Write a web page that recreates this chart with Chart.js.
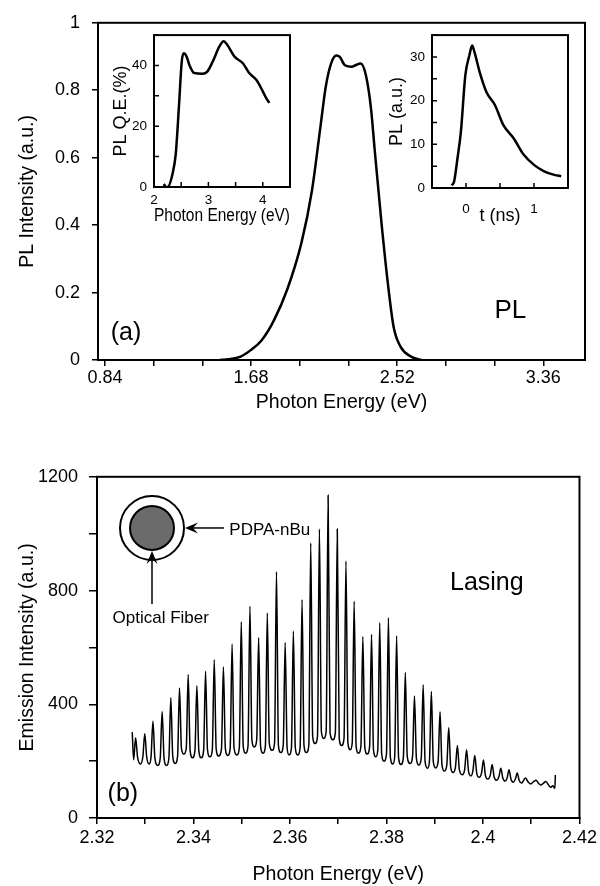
<!DOCTYPE html>
<html>
<head>
<meta charset="utf-8">
<script src="https://cdn.jsdelivr.net/npm/chart.js@4.4.1/dist/chart.umd.min.js"></script>
<style>
  body { margin: 0; background: #fff; width: 600px; height: 886px; position: relative; overflow: hidden; }
  canvas { position: absolute; }
</style>
</head>
<body>
<canvas id="plChart" width="600" height="430" style="left:0;top:0"></canvas>
<canvas id="qeChart" width="200" height="210" style="left:100px;top:20px"></canvas>
<canvas id="decayChart" width="210" height="210" style="left:380px;top:20px"></canvas>
<canvas id="lasingChart" width="600" height="431" style="left:0;top:455px"></canvas>
<script>
// (a) PL spectrum
const plEnergy    = [1.50, 1.55, 1.62, 1.68, 1.74, 1.81, 1.89, 1.97, 2.03, 2.08, 2.11, 2.14, 2.17, 2.19,
                     2.22, 2.26, 2.28, 2.31, 2.34, 2.37, 2.39, 2.43, 2.47, 2.50, 2.54, 2.60, 2.66];
const plIntensity = [0, 0.002, 0.01, 0.03, 0.058, 0.116, 0.212, 0.348, 0.502, 0.696, 0.812, 0.879, 0.903, 0.899,
                     0.874, 0.870, 0.874, 0.879, 0.845, 0.744, 0.628, 0.406, 0.212, 0.097, 0.039, 0.01, 0];
const plTicks      = [0.84, 1.12, 1.40, 1.68, 1.96, 2.24, 2.52, 2.80, 3.08, 3.36];
const plTickLabels = [0.84, 1.68, 2.52, 3.36];

// inset: PL quantum efficiency
const qeEnergy = [2.18, 2.22, 2.25, 2.34, 2.40, 2.46, 2.51, 2.55, 2.60, 2.65, 2.74, 2.89, 2.98, 3.08,
                  3.20, 3.28, 3.35, 3.48, 3.63, 3.75, 3.88, 4.00, 4.06, 4.12];
const qeValue  = [1, 0, 0, 4.3, 10.9, 27, 41.3, 44, 42.9, 40.2, 37.5, 37.3, 38, 41.3,
                  46.2, 48, 46.7, 42.9, 40.8, 37.5, 35.3, 31.5, 29.3, 27.7];

// inset: PL decay
const decayTime = [-0.21, -0.175, -0.125, -0.075, -0.01, 0.05, 0.09, 0.125, 0.2, 0.3, 0.425, 0.55,
                   0.7, 0.85, 1.0, 1.15, 1.3, 1.4];
const decayPL   = [0.6, 1.5, 6.8, 12.9, 25.8, 30.4, 32.6, 31.1, 26.6, 22, 19, 14.4,
                   11.4, 7.6, 5.3, 3.8, 3.0, 2.7];

// (b) lasing spectrum: per mode -> peak, foot, valley floor, foot
const lasingEnergy = [
  2.3273, 2.3276,
  2.3280, 2.3284, 2.3290, 2.3295,   2.3299, 2.3303, 2.3308, 2.3312,
  2.3316, 2.3320, 2.3326, 2.3331,   2.3335, 2.3339, 2.3344, 2.3349,
  2.3353, 2.3357, 2.3362, 2.3367,   2.3371, 2.3375, 2.3380, 2.3385,
  2.3389, 2.3393, 2.3398, 2.3403,   2.3407, 2.3411, 2.3416, 2.3421,
  2.3425, 2.3429, 2.3434, 2.3439,   2.3443, 2.3447, 2.3452, 2.3458,
  2.3462, 2.3466, 2.3471, 2.3476,   2.3480, 2.3484, 2.3490, 2.3495,
  2.3499, 2.3503, 2.3508, 2.3513,   2.3517, 2.3521, 2.3526, 2.3531,
  2.3535, 2.3539, 2.3544, 2.3549,   2.3553, 2.3557, 2.3563, 2.3568,
  2.3572, 2.3576, 2.3581, 2.3586,   2.3590, 2.3594, 2.3598, 2.3603,
  2.3607, 2.3611, 2.3616, 2.3621,   2.3625, 2.3629, 2.3634, 2.3639,
  2.3643, 2.3647, 2.3652, 2.3657,   2.3661, 2.3665, 2.3670, 2.3675,
  2.3679, 2.3683, 2.3689, 2.3694,   2.3698, 2.3702, 2.3707, 2.3712,
  2.3716, 2.3720, 2.3725, 2.3729,   2.3733, 2.3737, 2.3742, 2.3747,
  2.3751, 2.3755, 2.3760, 2.3765,   2.3769, 2.3773, 2.3778, 2.3782,
  2.3786, 2.3790, 2.3795, 2.3800,   2.3804, 2.3808, 2.3813, 2.3817,
  2.3821, 2.3825, 2.3830, 2.3835,   2.3839, 2.3843, 2.3849, 2.3854,
  2.3858, 2.3862, 2.3867, 2.3872,   2.3876, 2.3880, 2.3885, 2.3889,
  2.3893, 2.3897, 2.3902, 2.3907,   2.3911, 2.3915, 2.3920, 2.3925,
  2.3929, 2.3933, 2.3938, 2.3943,   2.3947, 2.3951, 2.3957, 2.3962,
  2.3966, 2.3970, 2.3975, 2.3979,   2.3983, 2.3987, 2.3992, 2.3997,
  2.4001, 2.4005, 2.4010, 2.4015,   2.4019, 2.4023, 2.4028, 2.4033,
  2.4037, 2.4041, 2.4046, 2.4050,   2.4054, 2.4058, 2.4063, 2.4067,
  2.4071, 2.4075, 2.4080, 2.4084,   2.4088, 2.4093, 2.4099, 2.4105,
  2.4110, 2.4115, 2.4120, 2.4125,
  2.4130, 2.4140, 2.4145, 2.4149, 2.4150
];
const lasingIntensity = [
  302, 205,
  282, 215, 190, 215,    296, 215, 190, 215,
  340, 210, 185, 210,    375, 210, 185, 210,
  423, 217, 192, 217,    457, 245, 225, 245,
  505, 237, 212, 237,    465, 237, 212, 237,
  516, 240, 215, 240,    557, 243, 218, 243,
  532, 245, 220, 245,    612, 247, 222, 247,
  690, 253, 228, 253,    745, 275, 250, 275,
  635, 253, 228, 253,    721, 263, 238, 263,
  866, 255, 230, 255,    617, 247, 222, 247,
  658, 247, 222, 247,    768, 255, 230, 255,
  967, 287, 262, 287,    1016, 305, 280, 305,
  1135, 300, 275, 300,   1016, 280, 255, 280,
  904, 265, 240, 265,    762, 253, 228, 253,
  638, 250, 225, 250,    646, 240, 215, 240,
  687, 225, 200, 225,    704, 215, 190, 215,
  641, 213, 188, 213,    513, 217, 192, 217,
  429, 210, 186, 210,    469, 198, 175, 198,
  445, 198, 176, 198,    374, 186, 165, 186,
  317, 180, 160, 180,    255, 170, 152, 170,
  240, 165, 148, 165,    220, 158, 143, 158,
  204, 150, 137, 150,    188, 145, 133, 145,
  175, 141, 130, 141,    170, 136, 126, 136,
  158, 132, 123, 132,    141, 128, 120, 128,
  133, 122, 116, 122,
  128, 108, 113, 104, 151
];

Chart.defaults.font.family = "'Liberation Sans', Arial, sans-serif";
Chart.defaults.color = '#000';
Chart.defaults.animation = false;
Chart.defaults.plugins.legend.display = false;
Chart.defaults.plugins.tooltip.enabled = false;

const pts = (xs, ys) => xs.map((x, i) => ({ x, y: ys[i] }));
const fmt = v => String(+v.toFixed(2));

// box round the plot area
const frame = {
  id: 'frame',
  afterDraw(c, args, opts) {
    const a = c.chartArea, ctx = c.ctx;
    ctx.save();
    ctx.strokeStyle = '#000';
    ctx.lineWidth = opts.width || 2;
    ctx.strokeRect(a.left, a.top, a.right - a.left, a.bottom - a.top);
    ctx.restore();
  }
};

// inward tick marks for the insets
const innerTicks = {
  id: 'innerTicks',
  afterDraw(c) {
    const { ctx, chartArea: a, scales: { x, y } } = c;
    ctx.save();
    ctx.strokeStyle = '#000';
    ctx.lineWidth = 1.5;
    ctx.beginPath();
    x.ticks.forEach(t => { const p = x.getPixelForValue(t.value); ctx.moveTo(p, a.bottom); ctx.lineTo(p, a.bottom - 5); });
    y.ticks.forEach(t => { const p = y.getPixelForValue(t.value); ctx.moveTo(a.left, p); ctx.lineTo(a.left + 5, p); });
    ctx.stroke();
    ctx.restore();
  }
};

// text placed in data coordinates
const notes = {
  id: 'notes',
  afterDraw(c, args, opts) {
    const { ctx, scales: { x, y } } = c;
    ctx.save();
    ctx.fillStyle = '#000';
    ctx.textBaseline = 'middle';
    (opts.items || []).forEach(n => {
      ctx.font = n.size + "px 'Liberation Sans', Arial, sans-serif";
      ctx.textAlign = n.align || 'center';
      ctx.fillText(n.text, x.getPixelForValue(n.x), y.getPixelForValue(n.y));
    });
    ctx.restore();
  }
};

function arrow(ctx, x1, y1, x2, y2) {
  const ang = Math.atan2(y2 - y1, x2 - x1);
  ctx.beginPath();
  ctx.moveTo(x1, y1);
  ctx.lineTo(x2 - 8 * Math.cos(ang), y2 - 8 * Math.sin(ang));
  ctx.stroke();
  ctx.save();
  ctx.translate(x2, y2);
  ctx.rotate(ang);
  ctx.beginPath();
  ctx.moveTo(0, 0);
  ctx.lineTo(-13, -5.5);
  ctx.lineTo(-8, 0);
  ctx.lineTo(-13, 5.5);
  ctx.closePath();
  ctx.fill();
  ctx.restore();
}

// fibre cross-section sketch
const fiber = {
  id: 'fiber',
  afterDraw(c) {
    const { ctx, scales: { x, y } } = c;
    const cx = x.getPixelForValue(2.3314), cy = y.getPixelForValue(1020);
    ctx.save();
    ctx.strokeStyle = '#000';
    ctx.lineWidth = 2;
    ctx.beginPath(); ctx.arc(cx, cy, 32, 0, 2 * Math.PI); ctx.stroke();
    ctx.beginPath(); ctx.arc(cx, cy, 22, 0, 2 * Math.PI);
    ctx.fillStyle = '#6b6b6b'; ctx.fill(); ctx.stroke();
    ctx.fillStyle = '#000';
    ctx.lineWidth = 1.5;
    arrow(ctx, x.getPixelForValue(2.3463), cy, cx + 33, cy);
    arrow(ctx, cx, y.getPixelForValue(753), cx, cy + 23);
    ctx.restore();
  }
};

const lineSet = (data, w) => ({
  data, borderColor: '#000', borderWidth: w, pointRadius: 0, fill: false,
  cubicInterpolationMode: 'monotone'
});

// (a)
new Chart(document.getElementById('plChart'), {
  type: 'line',
  data: { datasets: [lineSet(pts(plEnergy, plIntensity), 2.5)] },
  options: {
    responsive: false,
    layout: { padding: { left: 0, top: 15, right: 15, bottom: 0 } },
    scales: {
      x: {
        type: 'linear', min: 0.8, max: 3.6,
        afterBuildTicks: s => { s.ticks = plTicks.map(v => ({ value: v })); },
        afterFit: s => { s.height = 70; },
        grid: { drawOnChartArea: false, tickLength: 6, color: '#000', lineWidth: 1.5 },
        border: { color: '#000', width: 2 },
        ticks: { font: { size: 18 }, padding: 1, maxRotation: 0, autoSkip: false,
                 callback: v => plTickLabels.some(t => Math.abs(t - v) < 1e-6) ? fmt(v) : '' },
        title: { display: true, text: 'Photon Energy (eV)', font: { size: 19.5 }, padding: { top: 0, bottom: 16 } }
      },
      y: {
        min: 0, max: 1,
        afterFit: s => { s.width = 98; },
        grid: { drawOnChartArea: false, tickLength: 6, color: '#000', lineWidth: 1.5 },
        border: { color: '#000', width: 2 },
        ticks: { stepSize: 0.2, font: { size: 18 }, padding: 12, callback: v => fmt(v) },
        title: { display: true, text: 'PL Intensity (a.u.)', font: { size: 19.5 }, padding: { top: 16, bottom: 0 } }
      }
    },
    plugins: {
      frame: { width: 2 },
      notes: { items: [
        { text: '(a)', x: 0.961, y: 0.08, size: 25 },
        { text: 'PL', x: 3.1705, y: 0.145, size: 26 }
      ] }
    }
  },
  plugins: [frame, notes]
});

const insetAxis = (extra) => Object.assign({
  type: 'linear',
  grid: { display: false, drawTicks: false },
  border: { display: false }
}, extra);

// inset: quantum efficiency
new Chart(document.getElementById('qeChart'), {
  type: 'line',
  data: { datasets: [lineSet(pts(qeEnergy, qeValue), 2.5)] },
  options: {
    responsive: false,
    layout: { padding: { left: 0, top: 13, right: 10, bottom: 0 } },
    scales: {
      x: insetAxis({
        min: 2, max: 4.5,
        afterFit: s => { s.height = 43; },
        ticks: { stepSize: 0.5, font: { size: 13.5 }, padding: 5, maxRotation: 0, autoSkip: false,
                 callback: v => Number.isInteger(v) ? v : '' },
        title: { display: true, text: 'Photon Energy (eV)', font: { size: 18 }, padding: { top: 0, bottom: 3 } }
      }),
      y: insetAxis({
        min: 0, max: 50,
        afterFit: s => { s.width = 54; },
        ticks: { stepSize: 10, font: { size: 13.5 }, padding: 7, callback: v => v % 20 === 0 ? v : '' },
        title: { display: true, text: 'PL Q.E.(%)', font: { size: 18 }, padding: { top: 10, bottom: 0 } }
      })
    },
    plugins: { frame: { width: 2 } }
  },
  plugins: [frame, innerTicks]
});

// inset: decay
new Chart(document.getElementById('decayChart'), {
  type: 'line',
  data: { datasets: [lineSet(pts(decayTime, decayPL), 2.5)] },
  options: {
    responsive: false,
    layout: { padding: { left: 0, top: 13, right: 22, bottom: 0 } },
    scales: {
      x: insetAxis({
        min: -0.5, max: 1.5,
        afterFit: s => { s.height = 42; },
        ticks: { stepSize: 0.5, font: { size: 13.5 }, padding: 13, maxRotation: 0, autoSkip: false,
                 callback: v => (v === 0 || v === 1) ? v : '' },
        title: { display: true, text: 't (ns)', font: { size: 18 }, padding: { top: 0, bottom: 3 } }
      }),
      y: insetAxis({
        min: 0, max: 35,
        afterFit: s => { s.width = 52; },
        ticks: { stepSize: 5, font: { size: 13.5 }, padding: 7, callback: v => v % 10 === 0 ? v : '' },
        title: { display: true, text: 'PL (a.u.)', font: { size: 18 }, padding: { top: 6, bottom: 0 } }
      })
    },
    plugins: { frame: { width: 2 } }
  },
  plugins: [frame, innerTicks]
});

// (b)
new Chart(document.getElementById('lasingChart'), {
  type: 'line',
  data: { datasets: [{
    data: pts(lasingEnergy, lasingIntensity), borderColor: '#000', borderWidth: 1.5,
    pointRadius: 0, fill: false, cubicInterpolationMode: 'monotone'
  }] },
  options: {
    responsive: false,
    layout: { padding: { left: 0, top: 17, right: 18, bottom: 0 } },
    scales: {
      x: {
        type: 'linear', min: 2.32, max: 2.42,
        afterFit: s => { s.height = 68; },
        grid: { drawOnChartArea: false, tickLength: 6, color: '#000', lineWidth: 1.5 },
        border: { color: '#000', width: 2 },
        ticks: { stepSize: 0.01, font: { size: 18 }, padding: 3, maxRotation: 0, autoSkip: false,
                 callback: v => Math.round(v * 100) % 2 === 0 ? fmt(v) : '' },
        title: { display: true, text: 'Photon Energy (eV)', font: { size: 19.5 }, padding: { top: 0, bottom: 0 } }
      },
      y: {
        min: 0, max: 1200,
        afterFit: s => { s.width = 97; },
        grid: { drawOnChartArea: false, tickLength: 8, color: '#000', lineWidth: 1.5 },
        border: { color: '#000', width: 2 },
        ticks: { stepSize: 200, font: { size: 18 }, padding: 11, callback: v => v % 400 === 0 ? v : '' },
        title: { display: true, text: 'Emission Intensity (a.u.)', font: { size: 19.5 }, padding: { top: 16, bottom: 0 } }
      }
    },
    plugins: {
      frame: { width: 2 },
      notes: { items: [
        { text: '(b)', x: 2.32536, y: 85, size: 25 },
        { text: 'Lasing', x: 2.4008, y: 825, size: 25 },
        { text: 'PDPA-nBu', x: 2.34742, y: 1013, size: 17, align: 'left' },
        { text: 'Optical Fiber', x: 2.3332, y: 702, size: 17 }
      ] }
    }
  },
  plugins: [frame, fiber, notes]
});
</script>
</body>
</html>
